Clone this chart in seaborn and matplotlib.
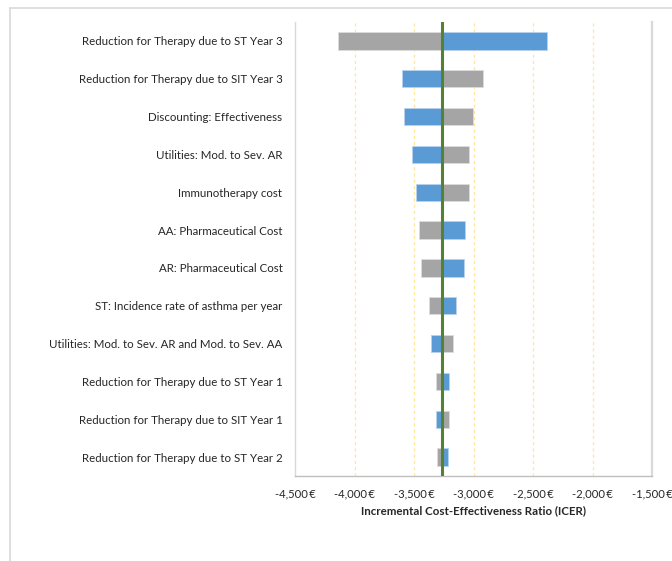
import matplotlib
matplotlib.use("Agg")
import matplotlib.pyplot as plt
from matplotlib.lines import Line2D
from matplotlib.ticker import FuncFormatter, MultipleLocator
import numpy as np
import pandas as pd
import seaborn as sns

# One-way sensitivity analysis: ICER at the low / high end of each parameter
parameters = [
    "Reduction for Therapy due to ST Year 3",
    "Reduction for Therapy due to SIT Year 3",
    "Discounting: Effectiveness",
    "Utilities: Mod. to Sev. AR",
    "Immunotherapy cost",
    "AA: Pharmaceutical Cost",
    "AR: Pharmaceutical Cost",
    "ST: Incidence rate of asthma per year",
    "Utilities: Mod. to Sev. AR and Mod. to Sev. AA",
    "Reduction for Therapy due to ST Year 1",
    "Reduction for Therapy due to SIT Year 1",
    "Reduction for Therapy due to ST Year 2",
]
icer_blue = [-2382, -3603, -3584, -3519, -3486, -3074, -3082, -3144, -3357, -3203, -3318, -3217]
icer_gray = [-4141, -2918, -3004, -3040, -3035, -3455, -3441, -3371, -3169, -3318, -3203, -3307]
base_icer = -3265

x_min, x_max, x_step = -4500, -1500, 500

df = pd.DataFrame({"parameter": parameters, "blue": icer_blue, "gray": icer_gray})

sns.set_theme(style="white")
plt.rcParams["font.family"] = ["Lato", "DejaVu Sans"]

fig = plt.figure(figsize=(6.72, 5.61), dpi=100)
ax = fig.add_axes([295 / 672, 1 - 476 / 561, (652 - 295) / 672, (476 - 22) / 561])

pos = np.arange(len(df))
bar_h = 0.46
blue = "#5B9BD5"
gray = "#A5A5A5"

ax.barh(pos, df["gray"] - base_icer, left=base_icer, height=bar_h,
        color=gray, edgecolor="#DCDCDC", linewidth=0.6, zorder=3)
ax.barh(pos, df["blue"] - base_icer, left=base_icer, height=bar_h,
        color=blue, edgecolor="#B8D3EE", linewidth=0.6, zorder=3)

ax.axvline(base_icer, color="#548235", linewidth=2.2, zorder=4)

ax.set_xlim(x_min, x_max)
ax.set_ylim(len(df) - 0.5, -0.5)
ax.xaxis.set_major_locator(MultipleLocator(x_step))
ax.xaxis.set_major_formatter(FuncFormatter(lambda v, _: f"{v:,.0f}\u2009€"))

for g in np.arange(x_min + x_step, x_max, x_step):
    ax.axvline(g, color="#FFE699", linewidth=0.9, linestyle=(0, (2.5, 2.5)), zorder=1)

ax.set_yticks(pos)
ax.set_yticklabels(df["parameter"], fontsize=8.3, color="#262626")
ax.tick_params(axis="x", labelsize=8.1, labelcolor="#262626", length=0, pad=9)
ax.tick_params(axis="y", length=0, pad=9)
ax.set_xlabel("Incremental Cost-Effectiveness Ratio (ICER)", fontsize=8.3,
              fontweight="bold", color="#262626", labelpad=4)
ax.set_ylabel("")

ax.spines["top"].set_visible(False)
ax.spines["left"].set_color("#D9D9D9")
ax.spines["left"].set_linewidth(1.0)
ax.spines["right"].set_color("#D9D9D9")
ax.spines["right"].set_linewidth(1.6)
ax.spines["bottom"].set_color("#BFBFBF")
ax.spines["bottom"].set_linewidth(1.0)

# Outer chart-area border (top and left edges)
fig.add_artist(Line2D([10 / 672, 10 / 672], [0, 1 - 8 / 561], color="#D9D9D9", linewidth=1.2))
fig.add_artist(Line2D([10 / 672, 1], [1 - 8 / 561, 1 - 8 / 561], color="#D9D9D9", linewidth=1.2))

fig.savefig("out.png", dpi=100, facecolor="white")
